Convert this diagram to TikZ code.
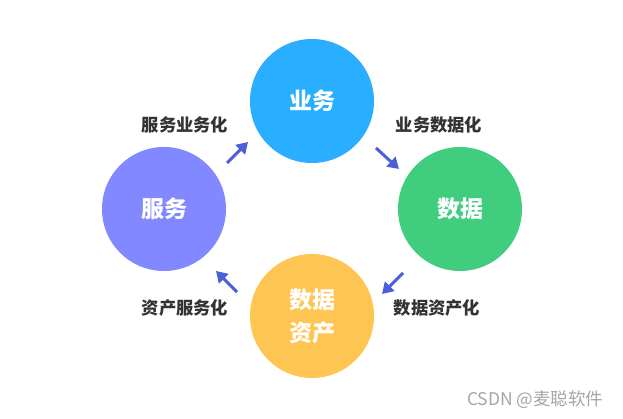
\documentclass[tikz,border=0pt]{standalone}
\usepackage{fontspec}
\usepackage{xcolor}
\usetikzlibrary{arrows.meta,calc,positioning}
\newfontfamily\cjk{Noto Sans CJK SC}
\definecolor{ywblue}{HTML}{2AAEFF}
\definecolor{sjgreen}{HTML}{40CE7E}
\definecolor{fwpurple}{HTML}{8288FF}
\definecolor{zcyellow}{HTML}{FFC552}
\definecolor{arrblue}{HTML}{4B5FD9}
\definecolor{labgray}{HTML}{333333}
\tikzset{
  stage/.style={circle, minimum size=124pt, inner sep=0pt, align=center,
    text=white, font=\cjk\bfseries\fontsize{23}{33}\selectfont},
  steplabel/.style={text=labgray, font=\cjk\bfseries\fontsize{17.3}{20}\selectfont},
  flow/.style={arrblue, line width=3pt, -{Triangle[length=11pt,width=13pt]}}
}
\begin{document}
\begin{tikzpicture}[x=1pt,y=-1pt]
    \fill[white] (0,0) rectangle (623,419);
    \useasboundingbox (0,0) rectangle (623,419);
    % four stages
    \foreach \name/\x/\y/\col/\txt in {
      yewu/312/101/ywblue/{业务},
      shuju/460/209/sjgreen/{数据},
      zichan/312/316/zcyellow/{数据\\资产},
      fuwu/164/209/fwpurple/{服务}} {
      \node[stage, fill=\col] (\name) at (\x,\y) {\txt};
    }
    % arrow ends
    \coordinate (a1s) at (376,148); \coordinate (a1e) at (399,169);
    \coordinate (a2s) at (403,273); \coordinate (a2e) at (382,294);
    \coordinate (a3s) at (237,292); \coordinate (a3e) at (216,271);
    \coordinate (a4s) at (227,163); \coordinate (a4e) at (248,142);
    \draw[flow] (a1s) -- (a1e);
    \draw[flow] (a2s) -- (a2e);
    \draw[flow] (a3s) -- (a3e);
    \draw[flow] (a4s) -- (a4e);
    % step labels
    \node[steplabel] (l1) at (439,125) {业务数据化};
    \node[steplabel] (l2) at (437,308) {数据资产化};
    \node[steplabel] (l3) at (185,308) {资产服务化};
    \node[steplabel] (l4) at (185,125) {服务业务化};
    \node[text=black!35, font=\cjk\fontsize{17.5}{20}\selectfont, anchor=east] (wm) at (607,400) {CSDN @麦聪软件};
  \end{tikzpicture}
\end{document}
